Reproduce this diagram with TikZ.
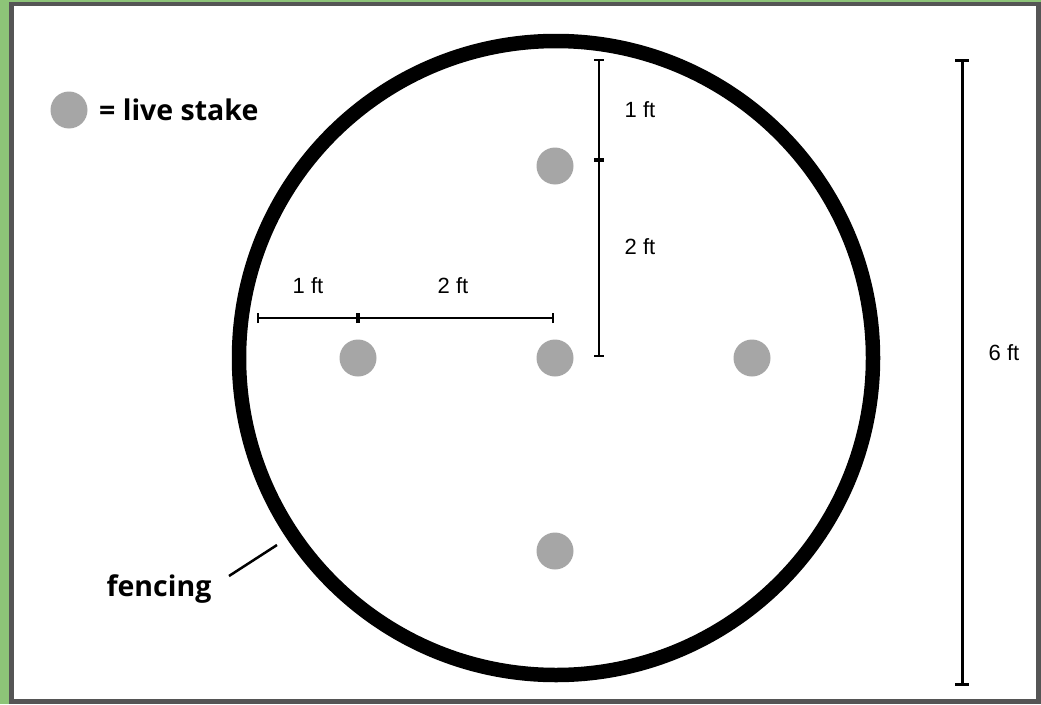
\documentclass[tikz,border=0pt]{standalone}
\usepackage{fontspec}
\setmainfont{Liberation Sans}
\newfontfamily\labfont{Open Sans}
\definecolor{framegreen}{RGB}{141,196,120}
\definecolor{framegray}{RGB}{85,85,85}
\definecolor{stakegray}{RGB}{166,166,166}
\tikzset{
  stake/.style={circle,fill=stakegray,minimum size=37pt,inner sep=0pt},
  dimtext/.style={font=\fontsize{22}{24}\selectfont,inner sep=0pt},
  boldlab/.style={font=\labfont\bfseries\fontsize{28.5}{31}\selectfont,inner sep=0pt,anchor=west},
  dimline/.style={line width=2pt},
  tickmark/.style={line width=2pt},
}
\begin{document}
\begin{tikzpicture}[x=1pt,y=-1pt]
\useasboundingbox (0,0) rectangle (1041,704);
% frame
\fill[framegreen] (0,0) rectangle (1041,704);
\fill[framegray] (9,2) rectangle (1041,704);
\fill[white] (14,6) rectangle (1036,699);
% fence
\node[circle,draw=black,line width=14.5pt,minimum size=634pt,inner sep=0pt] (fence) at (556,358) {};
% stakes
\node[stake] (top) at (555,166) {};
\node[stake] (left) at (358,358) {};
\node[stake] (center) at (555,358) {};
\node[stake] (right) at (752,358) {};
\node[stake] (bottom) at (555,551) {};
% legend
\node[stake] (legdot) at (69,110) {};
\node[boldlab] (legtxt) at (99,110) {= live stake};
% horizontal dimension
\coordinate (h0) at (258,318);
\coordinate (h1) at (358,318);
\coordinate (h2) at (553,318);
\draw[dimline] (h0) -- (h2);
\draw[tickmark] ([yshift=-5pt]h0) -- ([yshift=5pt]h0);
\draw[tickmark] ([yshift=-5pt]h2) -- ([yshift=5pt]h2);
\draw[line width=4pt] ([yshift=-5pt]h1) -- ([yshift=5pt]h1);
\node[dimtext] (h1lab) at (308,286) {1 ft};
\node[dimtext] (h2lab) at (453,286) {2 ft};
% vertical dimension
\coordinate (v0) at (599,60);
\coordinate (v1) at (599,160);
\coordinate (v2) at (599,356);
\draw[dimline] (v0) -- (v2);
\draw[tickmark] ([xshift=-5pt]v0) -- ([xshift=5pt]v0);
\draw[tickmark] ([xshift=-5pt]v2) -- ([xshift=5pt]v2);
\draw[line width=4pt] ([xshift=-5pt]v1) -- ([xshift=5pt]v1);
\node[dimtext] (v1lab) at (640,110) {1 ft};
\node[dimtext] (v2lab) at (640,247) {2 ft};
% overall dimension
\coordinate (s0) at (962,60);
\coordinate (s1) at (962,684);
\draw[line width=3pt] (s0) -- (s1);
\draw[line width=3pt] ([xshift=-7pt]s0) -- ([xshift=7pt]s0);
\draw[line width=3pt] ([xshift=-7pt]s1) -- ([xshift=7pt]s1);
\node[dimtext] (slab) at (1004,353) {6 ft};
% fencing label
\node[boldlab,anchor=center] (fenclab) at (159,589) {fencing};
\coordinate (p0) at (229,576);
\coordinate (p1) at (277,545);
\draw[line width=2.5pt] (p0) -- (p1);
\end{tikzpicture}
\end{document}
